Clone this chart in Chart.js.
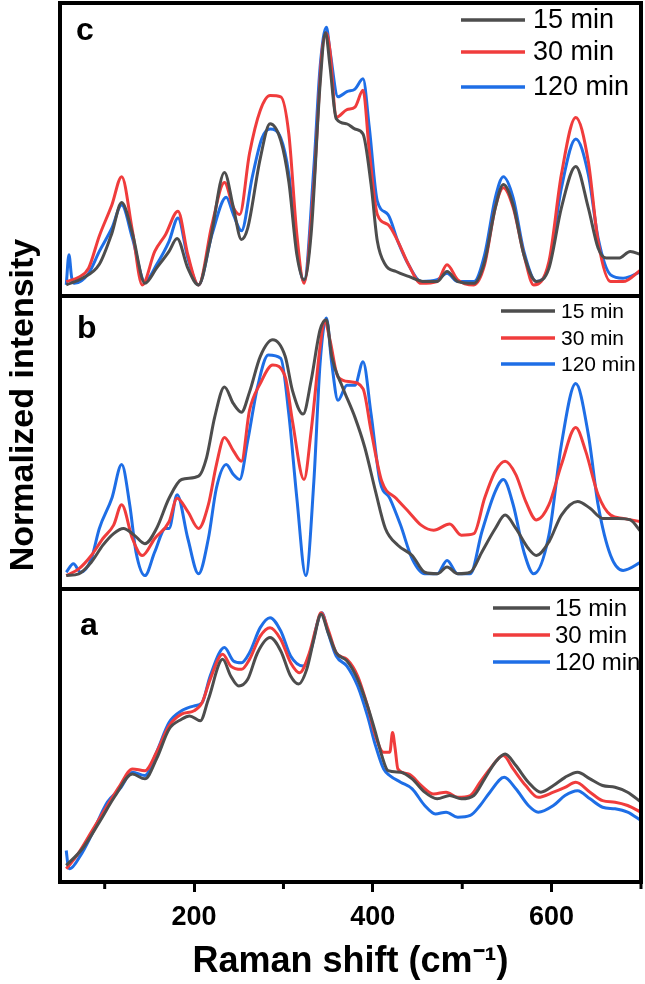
<!DOCTYPE html>
<html>
<head>
<meta charset="utf-8">
<script src="https://cdn.jsdelivr.net/npm/chart.js@4.4.0/dist/chart.umd.min.js"></script>
<style>
  html, body { margin: 0; padding: 0; background: #fff; }
  #wrap { width: 645px; height: 984px; position: relative; }
</style>
</head>
<body>
<div id="wrap"><canvas id="raman" width="645" height="984"></canvas></div>
<script>
// series labels + colours
const seriesLabels = ['15 min', '30 min', '120 min'];
const seriesColors = ['#4d4d4d', '#f03c3c', '#1e6ee6'];
const xMajor = [200, 400, 600];
const xMinor = [100, 300, 500, 700];
const yTitle = 'Normalized intensity';
const xTitle = 'Raman shift (cm\u207B\u00B9)';

// panel c  [Raman shift, normalized intensity]
const c15 = [[57,0],[75,.026],[94,.08],[108,.2],[119,.32],[131,.2],[145,.006],[158,.065],[172,.13],[181,.18],[193,.065],[205,0],[218,.17],[234,.436],[244,.30],[253,.176],[260,.22],[274,.49],[285,.625],[297,.56],[306,.40],[315,.117],[323,.02],[331,.2],[341,.78],[347,.98],[352,.85],[359,.645],[371,.625],[380,.605],[389,.586],[398,.39],[405,.17],[414,.078],[426,.052],[440,.033],[458,.013],[472,.013],[483,.052],[495,.013],[513,.006],[525,.09],[537,.30],[546,.39],[557,.31],[569,.117],[583,.013],[597,.065],[611,.30],[627,.46],[641,.30],[652,.143],[661,.104],[675,.104],[688,.13],[700,.117]];
const c30 = [[57,.013],[71,.03],[82,.065],[94,.19],[108,.31],[119,.42],[131,.21],[142,0],[156,.13],[168,.195],[182,.286],[193,.117],[205,0],[220,.234],[234,.397],[244,.30],[251,.273],[262,.51],[274,.677],[285,.735],[297,.73],[306,.586],[315,.195],[323,.006],[334,.39],[343,.9],[348,.977],[352,.91],[359,.65],[371,.68],[380,.69],[389,.755],[396,.52],[405,.273],[417,.234],[428,.169],[440,.078],[454,.006],[472,.013],[483,.078],[495,.02],[513,0],[525,.078],[537,.30],[546,.377],[557,.30],[569,.117],[580,0],[597,.091],[611,.43],[627,.65],[641,.48],[652,.169],[666,.013],[680,.013],[700,.059]];
const c120 = [[57,0],[60,.117],[63,.03],[66,.006],[82,.045],[94,.13],[108,.22],[119,.31],[131,.182],[145,.013],[158,.078],[172,.169],[182,.26],[193,.104],[205,0],[220,.195],[236,.34],[244,.273],[253,.21],[265,.417],[276,.57],[285,.605],[297,.57],[306,.43],[315,.143],[323,.013],[334,.456],[341,.846],[348,1.0],[352,.91],[361,.73],[371,.75],[380,.76],[389,.8],[396,.612],[405,.325],[417,.273],[428,.169],[440,.078],[454,.013],[472,.02],[483,.045],[495,.013],[513,.013],[525,.117],[537,.338],[546,.42],[557,.338],[569,.13],[583,.013],[597,.078],[611,.377],[627,.566],[641,.43],[652,.182],[666,.039],[680,.026],[700,.052]];

// panel b
const b15 = [[57,0],[71,.007],[85,.052],[98,.118],[110,.163],[121,.183],[133,.157],[145,.124],[158,.183],[172,.3],[186,.373],[205,.386],[214,.458],[223,.614],[234,.732],[244,.667],[253,.634],[262,.712],[274,.85],[288,.915],[302,.85],[310,.719],[322,.627],[331,.758],[341,.954],[348,.993],[354,.85],[366,.732],[380,.614],[391,.497],[403,.327],[414,.183],[428,.118],[444,.078],[458,.013],[472,.007],[483,.033],[495,.007],[509,.013],[522,.092],[537,.183],[548,.235],[560,.183],[574,.105],[583,.078],[597,.131],[611,.235],[629,.288],[643,.261],[657,.222],[675,.222],[688,.216],[700,.170]];
const b30 = [[57,0],[71,.026],[85,.078],[98,.144],[110,.196],[119,.275],[131,.144],[142,.078],[156,.144],[172,.209],[181,.3],[193,.248],[205,.183],[216,.275],[225,.431],[234,.536],[244,.484],[253,.444],[262,.641],[274,.745],[288,.817],[302,.771],[310,.601],[323,.373],[331,.562],[341,.889],[346,.99],[352,.915],[361,.771],[375,.752],[389,.725],[398,.562],[410,.366],[426,.3],[440,.248],[454,.196],[468,.176],[486,.2],[499,.157],[513,.163],[525,.3],[537,.405],[548,.444],[560,.392],[571,.288],[583,.216],[597,.275],[611,.431],[627,.575],[638,.484],[652,.314],[666,.235],[680,.222],[700,.209]];
const b120 = [[57,.013],[65,.046],[73,.013],[85,.065],[94,.183],[108,.3],[119,.431],[128,.275],[135,.092],[145,0],[156,.092],[168,.183],[172,.183],[181,.314],[193,.144],[205,.007],[216,.144],[225,.34],[236,.431],[244,.392],[251,.373],[260,.523],[271,.732],[283,.856],[297,.843],[306,.627],[315,.3],[325,0],[334,.366],[341,.824],[348,1.0],[354,.824],[361,.68],[371,.739],[380,.739],[389,.83],[398,.627],[408,.366],[419,.3],[431,.196],[444,.065],[458,.007],[472,.007],[483,.059],[495,.007],[509,.007],[522,.170],[537,.327],[546,.373],[557,.275],[569,.092],[580,.007],[597,.157],[611,.51],[627,.745],[641,.549],[652,.275],[666,.078],[680,.02],[700,.052]];

// panel a
const a15 = [[57,.013],[75,.078],[94,.182],[112,.286],[131,.37],[145,.351],[158,.429],[172,.545],[186,.584],[195,.597],[207,.578],[216,.662],[232,.818],[241,.753],[250,.714],[260,.74],[271,.844],[285,.903],[297,.851],[308,.753],[317,.722],[326,.779],[334,.896],[342,.994],[350,.922],[359,.844],[371,.812],[383,.74],[394,.636],[403,.532],[410,.442],[417,.383],[431,.377],[444,.351],[458,.299],[472,.273],[486,.286],[499,.273],[513,.286],[525,.351],[537,.416],[548,.448],[560,.403],[574,.338],[588,.299],[602,.325],[615,.357],[629,.377],[643,.351],[657,.325],[671,.318],[685,.299],[700,.260]];
const a30 = [[57,0],[69,.052],[85,.143],[103,.247],[117,.325],[131,.39],[145,.383],[158,.455],[172,.558],[186,.604],[200,.617],[209,.649],[218,.74],[232,.838],[241,.792],[253,.779],[262,.818],[274,.909],[285,.942],[297,.896],[308,.805],[318,.766],[329,.844],[336,.935],[342,1.0],[350,.935],[359,.844],[371,.818],[383,.753],[394,.636],[403,.519],[412,.455],[419,.455],[422,.532],[425,.468],[428,.39],[440,.37],[454,.325],[468,.292],[482,.299],[495,.279],[509,.286],[520,.338],[531,.39],[546,.442],[557,.39],[571,.325],[585,.279],[602,.299],[615,.318],[627,.338],[643,.299],[657,.266],[671,.26],[685,.247],[700,.221]];
const a120 = [[57,.071],[59,.013],[61,0],[73,.052],[85,.13],[103,.26],[117,.312],[131,.377],[145,.364],[158,.455],[172,.571],[186,.617],[200,.636],[209,.649],[218,.753],[234,.864],[244,.812],[253,.805],[262,.844],[274,.942],[285,.981],[297,.929],[308,.831],[322,.792],[331,.857],[338,.961],[343,1.0],[350,.922],[359,.831],[371,.792],[383,.714],[394,.597],[403,.481],[412,.39],[419,.364],[431,.338],[444,.312],[458,.247],[470,.214],[482,.221],[495,.201],[509,.208],[520,.247],[531,.299],[547,.357],[560,.312],[574,.247],[585,.221],[602,.247],[615,.286],[629,.305],[643,.273],[657,.240],[671,.234],[685,.221],[700,.188]];

const FONT = "'Liberation Sans', Arial, sans-serif";

// per panel: y-axis id, series, legend look (offsets from panel top / plot right)
const panels = [
  { id: 'yc', letter: 'c', series: [c15, c30, c120], legend: { size: 27, rows: [17, 49, 84], line: [-180, -116], text: -108 }, letterPos: [16, 37] },
  { id: 'yb', letter: 'b', series: [b15, b30, b120], legend: { size: 21, rows: [15, 42, 68], line: [-140, -86], text: -80 }, letterPos: [17, 42] },
  { id: 'ya', letter: 'a', series: [a15, a30, a120], legend: { size: 24, rows: [19, 46, 73], line: [-148, -91], text: -86 }, letterPos: [20, 46] }
];

// datasets
const datasets = [];
panels.forEach(p => {
  p.series.forEach((s, i) => {
    datasets.push({
      label: seriesLabels[i],
      data: s.map(([x, y]) => ({ x, y })),
      yAxisID: p.id,
      borderColor: seriesColors[i],
      borderWidth: 3,
      pointRadius: 0,
      cubicInterpolationMode: 'monotone',
      fill: false
    });
  });
});

function yScale(min, max) {
  return {
    type: 'linear',
    position: 'left',
    stack: 'panels',
    stackWeight: 1,
    min: min, max: max,
    grid: { display: false },
    border: { display: false },
    ticks: { display: false },
    afterFit: s => { s.width = 60; }
  };
}

// frames, minor ticks, letters, legends, y title
const panelDecor = {
  id: 'panelDecor',
  afterDatasetsDraw(chart) {
    const ctx = chart.ctx;
    const area = chart.chartArea;
    const xs = chart.scales.x;
    ctx.save();

    // minor x ticks (shorter)
    ctx.strokeStyle = '#000';
    ctx.lineWidth = 3;
    xMinor.forEach(v => {
      const px = xs.getPixelForValue(v);
      ctx.beginPath();
      ctx.moveTo(px, area.bottom);
      ctx.lineTo(px, area.bottom + 7);
      ctx.stroke();
    });

    panels.forEach(p => {
      const sc = chart.scales[p.id];
      ctx.strokeStyle = '#000';
      ctx.lineWidth = 4;
      ctx.strokeRect(area.left, sc.top, area.right - area.left, sc.bottom - sc.top);

      // letter
      ctx.fillStyle = '#000';
      ctx.font = 'bold 32px ' + FONT;
      ctx.textBaseline = 'alphabetic';
      ctx.textAlign = 'left';
      ctx.fillText(p.letter, area.left + p.letterPos[0], sc.top + p.letterPos[1]);

      // legend
      const lg = p.legend;
      ctx.font = lg.size + 'px ' + FONT;
      ctx.textBaseline = 'middle';
      seriesLabels.forEach((lab, i) => {
        const y = sc.top + lg.rows[i];
        ctx.strokeStyle = seriesColors[i];
        ctx.lineWidth = 3.5;
        ctx.beginPath();
        ctx.moveTo(area.right + lg.line[0], y);
        ctx.lineTo(area.right + lg.line[1], y);
        ctx.stroke();
        ctx.fillStyle = '#000';
        ctx.fillText(lab, area.right + lg.text, y + 1);
      });
    });

    // shared y title
    ctx.translate(33, 405);
    ctx.rotate(-Math.PI / 2);
    ctx.font = 'bold 34px ' + FONT;
    ctx.fillStyle = '#000';
    ctx.textAlign = 'center';
    ctx.textBaseline = 'alphabetic';
    ctx.fillText(yTitle, 0, 0);
    ctx.restore();
  }
};

new Chart(document.getElementById('raman'), {
  type: 'line',
  data: { datasets },
  options: {
    responsive: false,
    animation: false,
    devicePixelRatio: 1,
    layout: { padding: { top: 3, right: 4, left: 0, bottom: 0 } },
    plugins: { legend: { display: false }, tooltip: { enabled: false } },
    scales: {
      x: {
        type: 'linear',
        position: 'bottom',
        min: 50, max: 700,
        afterBuildTicks: s => { s.ticks = xMajor.map(v => ({ value: v })); },
        afterFit: s => { s.height = 102; },
        grid: { display: true, drawOnChartArea: false, drawTicks: true, tickLength: 10, lineWidth: 3, color: '#000' },
        border: { display: true, width: 4, color: '#000' },
        ticks: {
          autoSkip: false, maxRotation: 0, padding: 9, color: '#000',
          font: { family: FONT, size: 27, weight: 'bold' }
        },
        title: {
          display: true,
          text: xTitle,
          color: '#000',
          font: { family: FONT, size: 36, weight: 'bold', lineHeight: 1 },
          padding: { top: 0, bottom: 4 }
        }
      },
      ya: yScale(-0.052, 1.093),
      yb: yScale(-0.052, 1.085),
      yc: yScale(-0.043, 1.094)
    }
  },
  plugins: [panelDecor]
});
</script>
</body>
</html>
